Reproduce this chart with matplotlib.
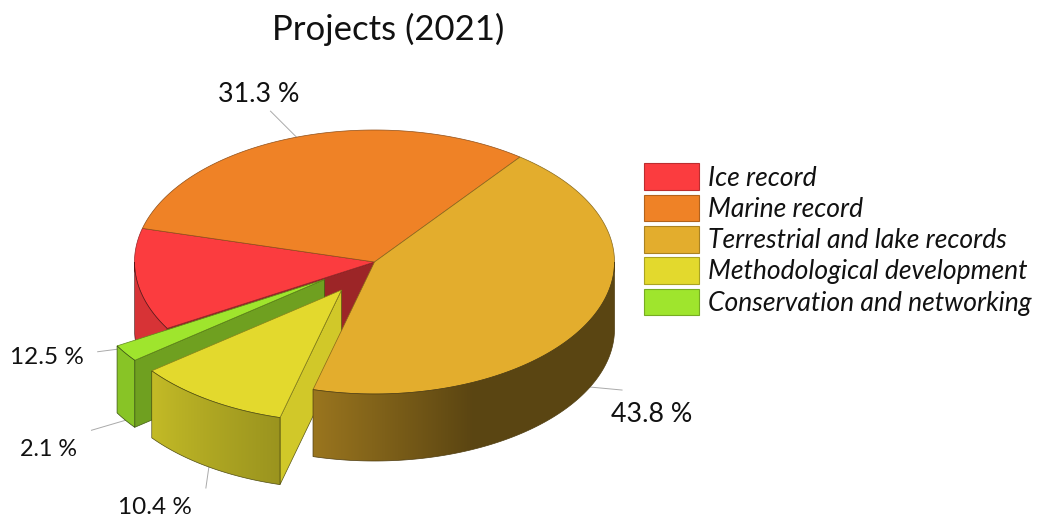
import numpy as np
import matplotlib
matplotlib.use("Agg")
import matplotlib.pyplot as plt
from matplotlib.patches import Polygon, Rectangle
from matplotlib.colors import to_rgb

plt.rcParams['font.family'] = ['Lato', 'DejaVu Sans']

# chart data, clockwise from the Ice slice
labels = ["Ice record", "Marine record", "Terrestrial and lake records",
          "Methodological development", "Conservation and networking"]
shares = [12.5, 31.3, 43.8, 10.4, 2.1]
colors = ["#fb3c3f", "#ef8226", "#e3ad2d", "#e3d92d", "#9fe52d"]

# geometry of the fake 3D pie, in pixels
CX, CY = 374.5, 262.0
RX, RY = 240.0, 132.0
DEPTH = 67.0
START = 210.2
offsets = [(0, 0), (0, 0), (0, 0), (-33, 28), (-50, 17.5)]
# leader end relative to its anchor, and text position and size
leader_ends = [(-39, 5), (-26, -26), (32, 3), (-3, 21), (-34, 10)]
label_pos = [(47, 357.5), (259, 95), (652, 414), (155, 507), (49, 450)]
label_sizes = [17.5, 19.3, 19.3, 17.5, 16.8]
anchor_on_wall = [True, False, True, True, True]

# brightness of the side wall by angle around the pie
shade_angles = [180, 218, 255, 294, 360]
shade_values = [0.86, 0.86, 0.68, 0.40, 0.40]


def point(deg, off=(0, 0), drop=0.0):
    t = np.radians(deg)
    return (CX + off[0] + RX * np.cos(t), CY + off[1] - RY * np.sin(t) + drop)


def scale(color, k):
    return tuple(c * k for c in to_rgb(color))


def draw_top(ax, a0, a1, color, off):
    ts = np.linspace(a0, a1, 120)
    pts = [(CX + off[0], CY + off[1])] + [point(t, off) for t in ts]
    ax.add_patch(Polygon(pts, closed=True, facecolor=color,
                         edgecolor=scale(color, 0.6), linewidth=0.5))


def draw_wall(ax, a0, a1, color, off):
    # outer rim, a horizontal gradient clipped to the rim outline
    lo, hi = max(min(a0, a1), 180), min(max(a0, a1), 360)
    ts = np.linspace(lo, hi, 120)
    pts = [point(t, off) for t in ts] + [point(t, off, DEPTH) for t in ts[::-1]]
    rim = Polygon(pts, closed=True, facecolor='none',
                  edgecolor=scale(color, 0.35), linewidth=0.5, zorder=2.1)
    ax.add_patch(rim)
    xs = np.array(pts)[:, 0]
    ys = np.array(pts)[:, 1]
    grid = np.linspace(xs.min(), xs.max(), 300)
    cosines = np.clip((grid - CX - off[0]) / RX, -1, 1)
    angle = 360 - np.degrees(np.arccos(cosines))
    k = np.interp(angle, shade_angles, shade_values)
    strip = np.outer(k, to_rgb(color))[np.newaxis, :, :]
    im = ax.imshow(strip, extent=[xs.min(), xs.max(), ys.max(), ys.min()],
                   aspect='auto', interpolation='bilinear', zorder=2)
    im.set_clip_path(rim)


def draw_face(ax, deg, color, k, off):
    # flat cut face running from the centre to the rim
    cx, cy = CX + off[0], CY + off[1]
    px, py = point(deg, off)
    pts = [(cx, cy), (px, py), (px, py + DEPTH), (cx, cy + DEPTH)]
    ax.add_patch(Polygon(pts, closed=True, facecolor=scale(color, k),
                         edgecolor=scale(color, 0.4), linewidth=0.5))


def stack(layer, *calls):
    # whatever these calls add goes into one layer, back to front
    seen = set(ax.patches) | set(ax.images)
    for draw, args in calls:
        draw(ax, *args)
    for artist in (set(ax.patches) | set(ax.images)) - seen:
        artist.set_zorder(layer + artist.get_zorder() / 10)


fig = plt.figure(figsize=(10.42, 5.2), dpi=100)
ax = fig.add_axes([0, 0, 1, 1])

# slice limits, going clockwise
sweep = np.array(shares) / sum(shares) * 360
ends = START - np.cumsum(sweep)
starts = np.concatenate(([START], ends[:-1]))

# leader lines go under the pie
for i in range(len(shares)):
    mid = (starts[i] + ends[i]) / 2
    x, y = point(mid, offsets[i], DEPTH if anchor_on_wall[i] else 0)
    dx, dy = leader_ends[i]
    ax.plot([x, x + dx], [y, y + dy], color="#aaaaaa", lw=0.7, zorder=0.5)

# Ice and Marine stay in place, at the back
stack(1, (draw_wall, (ends[0], starts[0], colors[0], offsets[0])),
      (draw_face, (starts[0], colors[0], 0.62, offsets[0])),
      (draw_top, (ends[0], starts[0], colors[0], offsets[0])),
      (draw_top, (ends[1], starts[1], colors[1], offsets[1])))

# exploded slices, Conservation behind Methodological
stack(2, (draw_wall, (ends[4] + 360, starts[4] + 360, colors[4], offsets[4])),
      (draw_face, (starts[4] + 360, colors[4], 0.70, offsets[4])),
      (draw_top, (ends[4], starts[4], colors[4], offsets[4])))
stack(3, (draw_wall, (ends[3] + 360, starts[3] + 360, colors[3], offsets[3])),
      (draw_face, (starts[3] + 360, colors[3], 0.92, offsets[3])),
      (draw_top, (ends[3], starts[3], colors[3], offsets[3])))

# Terrestrial last, it sits over the Methodological cut face
stack(4, (draw_wall, (ends[2] + 360, starts[2] + 360, colors[2], offsets[2])),
      (draw_top, (ends[2], starts[2], colors[2], offsets[2])))

# percentage labels
for share, (x, y), size in zip(shares, label_pos, label_sizes):
    ax.text(x, y, f"{share} %", ha='center', va='center', fontsize=size,
            color="#111111", zorder=6)

ax.text(388, 29, "Projects (2021)", ha='center', va='center', fontsize=25,
        color="#111111", zorder=6)

# legend
legend_tops = [163, 194.5, 226, 257, 288.5]
for name, col, top in zip(labels, colors, legend_tops):
    ax.add_patch(Rectangle((644, top), 55, 26.5, facecolor=col,
                           edgecolor=scale(col, 0.75), linewidth=0.8, zorder=6))
    ax.text(708, top + 15, name, ha='left', va='center', fontsize=19.1,
            style='italic', color="#111111", zorder=6)

ax.set_xlim(0, 1042)
ax.set_ylim(520, 0)
ax.axis('off')
fig.savefig("out.png", dpi=100)
